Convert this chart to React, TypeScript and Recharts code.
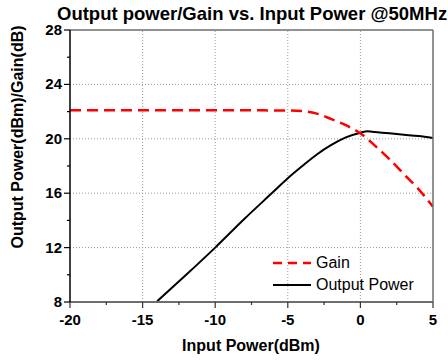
import { LineChart, Line, XAxis, YAxis, ReferenceLine } from "recharts";

// Gain curve (dB) vs input power (dBm)
const gainInput = [-20, -15, -10, -5, -4, -3, -2, -1, 0, 1, 2, 3, 4, 5];
const gainValues = [22.1, 22.1, 22.1, 22.08, 22.04, 21.85, 21.45, 21.0, 20.4, 19.5, 18.5, 17.4, 16.3, 15.0];

// Output power curve (dBm)
const outInput = [-14, -12, -10, -8, -6, -5, -4, -3, -2, -1, 0, 0.5, 1, 2, 3, 4, 5];
const outValues = [8.05, 10.0, 12.0, 14.1, 16.1, 17.1, 18.0, 18.85, 19.55, 20.1, 20.45, 20.55, 20.5, 20.4, 20.3, 20.2, 20.05];

const xTicks = [-20, -17.5, -15, -12.5, -10, -7.5, -5, -2.5, 0, 2.5, 5];
const yTicks = [8, 10, 12, 14, 16, 18, 20, 22, 24, 26, 28];
const xGrid = [-15, -10, -5, 0];
const yGrid = [12, 16, 20, 24];

const FONT = "'Liberation Sans', Arial, sans-serif";

const gainData = gainInput.map((x, i) => ({ x, gain: gainValues[i] }));
const outData = outInput.map((x, i) => ({ x, out: outValues[i] }));

const isMajorX = (v: number) => v % 5 === 0;
const isMajorY = (v: number) => v % 4 === 0;

const BottomTick = ({ x, y, payload }: any) => {
  const major = isMajorX(payload.value);
  return (
    <g>
      <line x1={x} y1={y} x2={x} y2={y + (major ? 6 : 3)} stroke="#333" strokeWidth={1.2} />
      {major && (
        <text x={x} y={y + 23} textAnchor="middle" fontFamily={FONT} fontWeight="bold" fontSize={15} fill="#000">
          {payload.value}
        </text>
      )}
    </g>
  );
};

const LeftTick = ({ x, y, payload }: any) => {
  const major = isMajorY(payload.value);
  return (
    <g>
      <line x1={x - (major ? 6 : 3)} y1={y} x2={x} y2={y} stroke="#000" strokeWidth={1.2} />
      {major && (
        <text x={x - 8} y={y + 5} textAnchor="end" fontFamily={FONT} fontWeight="bold" fontSize={15} fill="#000">
          {payload.value}
        </text>
      )}
    </g>
  );
};

const TopTick = ({ x, y, payload }: any) => {
  const major = isMajorX(payload.value);
  return <line x1={x} y1={y} x2={x} y2={y + (major ? 5 : 3)} stroke="#555" strokeWidth={1.2} />;
};

const RightTick = ({ x, y, payload }: any) => {
  const major = isMajorY(payload.value);
  return <line x1={x - (major ? 5 : 3)} y1={y} x2={x} y2={y} stroke="#555" strokeWidth={1.2} />;
};

const LegendBox = () => (
  <div
    style={{
      position: "absolute",
      left: 272,
      top: 252,
      fontFamily: FONT,
      fontSize: 16,
      color: "#000",
      lineHeight: "22px",
    }}
  >
    <div style={{ display: "flex", alignItems: "center" }}>
      <svg width={40} height={10}>
        <line x1={1} y1={5} x2={39} y2={5} stroke="#ff0000" strokeWidth={2.5} strokeDasharray="9 6" />
      </svg>
      <span style={{ marginLeft: 4 }}>Gain</span>
    </div>
    <div style={{ display: "flex", alignItems: "center" }}>
      <svg width={40} height={10}>
        <line x1={1} y1={5} x2={39} y2={5} stroke="#000" strokeWidth={2} />
      </svg>
      <span style={{ marginLeft: 4 }}>Output Power</span>
    </div>
  </div>
);

export default function App() {
  return (
    <div style={{ position: "absolute", left: 0, top: 0, width: 448, height: 361, background: "#fff" }}>
      <LineChart width={448} height={361} margin={{ top: 20, right: 5, bottom: 29, left: 30 }}>
        <XAxis
          xAxisId="bottom"
          dataKey="x"
          type="number"
          domain={[-20, 5]}
          ticks={xTicks}
          interval={0}
          height={30}
          tickSize={0}
          tickMargin={0}
          tickLine={false}
          tick={(p: any) => <BottomTick {...p} />}
          axisLine={{ stroke: "#6e6e6e", strokeWidth: 2 }}
          allowDataOverflow
        />
        <XAxis
          xAxisId="top"
          orientation="top"
          dataKey="x"
          type="number"
          domain={[-20, 5]}
          ticks={xTicks}
          interval={0}
          height={10}
          tickSize={0}
          tickMargin={0}
          tickLine={false}
          tick={(p: any) => <TopTick {...p} />}
          axisLine={{ stroke: "#6e6e6e", strokeWidth: 1.5 }}
        />
        <YAxis
          yAxisId="left"
          type="number"
          domain={[8, 28]}
          ticks={yTicks}
          interval={0}
          width={40}
          tickSize={0}
          tickMargin={0}
          tickLine={false}
          tick={(p: any) => <LeftTick {...p} />}
          axisLine={{ stroke: "#000", strokeWidth: 1.5 }}
          allowDataOverflow
        />
        <YAxis
          yAxisId="right"
          orientation="right"
          type="number"
          domain={[8, 28]}
          ticks={yTicks}
          interval={0}
          width={10}
          tickSize={0}
          tickMargin={0}
          tickLine={false}
          tick={(p: any) => <RightTick {...p} />}
          axisLine={{ stroke: "#6e6e6e", strokeWidth: 1.5 }}
        />

        {/* dotted grid at major ticks */}
        {xGrid.map((v) => (
          <ReferenceLine key={"gx" + v} x={v} xAxisId="bottom" yAxisId="left" stroke="#9a9a9a" strokeDasharray="1 2" />
        ))}
        {yGrid.map((v) => (
          <ReferenceLine key={"gy" + v} y={v} xAxisId="bottom" yAxisId="left" stroke="#9a9a9a" strokeDasharray="1 2" />
        ))}

        <Line
          data={outData}
          xAxisId="bottom"
          yAxisId="left"
          dataKey="out"
          type="monotone"
          stroke="#000"
          strokeWidth={2}
          dot={false}
          isAnimationActive={false}
        />
        <Line
          data={gainData}
          xAxisId="bottom"
          yAxisId="left"
          dataKey="gain"
          type="monotone"
          stroke="#ff0000"
          strokeWidth={2.5}
          strokeDasharray="11 6"
          dot={false}
          isAnimationActive={false}
        />
      </LineChart>

      <LegendBox />

      {/* title and axis titles */}
      <svg width={448} height={361} style={{ position: "absolute", left: 0, top: 0, pointerEvents: "none" }}>
        <text x={57} y={20} fontFamily={FONT} fontWeight="bold" fontSize={18.5} fill="#000">
          Output power/Gain vs. Input Power @50MHz
        </text>
        <text x={251} y={351} textAnchor="middle" fontFamily={FONT} fontWeight="bold" fontSize={16} fill="#000">
          Input Power(dBm)
        </text>
        <text
          x={23}
          y={137}
          textAnchor="middle"
          transform="rotate(-90 23 137)"
          fontFamily={FONT}
          fontWeight="bold"
          fontSize={16}
          fill="#000"
        >
          Output Power(dBm)/Gain(dB)
        </text>
      </svg>
    </div>
  );
}
